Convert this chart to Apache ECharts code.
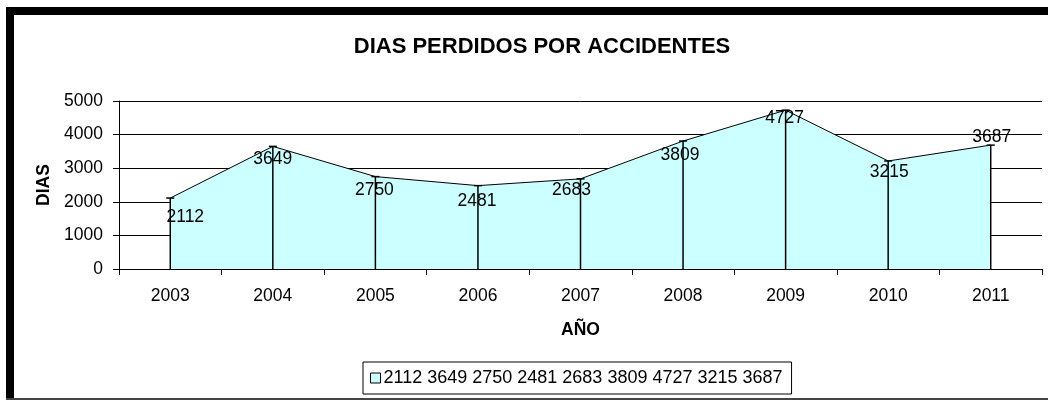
<!DOCTYPE html>
<html>
<head>
<meta charset="utf-8">
<script src="https://cdn.jsdelivr.net/npm/echarts@6/dist/echarts.min.js"></script>
</head>
<body style="margin:0;background:#fff">
<div id="main" style="width:1048px;height:401px;"></div>
<script type="text/javascript">
    // datos
    var years = ['2003', '2004', '2005', '2006', '2007', '2008', '2009', '2010', '2011'];
    var dias = [2112, 3649, 2750, 2481, 2683, 3809, 4727, 3215, 3687];
    var yTicks = [0, 1000, 2000, 3000, 4000, 5000];
    var seriesName = dias.join(' ');

    // desplazamiento de cada etiqueta (como quedaron en Excel)
    var labelOffsets = [[15, 19], [0, 13], [-1, 14], [-1, 16], [-9, 11], [-3, 14], [-1, 8], [1, 11], [1, -8]];

    var font = 'Liberation Sans, Arial, sans-serif';
    var myChart = echarts.init(document.getElementById('main'));

    var option = {
        backgroundColor: '#fff',
        animation: false,
        textStyle: { fontFamily: font, color: '#000' },
        title: {
            text: 'DIAS PERDIDOS POR ACCIDENTES',
            left: 537,
            top: 31,
            textAlign: 'center',
            textStyle: { fontSize: 22, fontWeight: 'bold', color: '#000', fontFamily: font }
        },
        legend: {
            left: 363,
            top: 362,
            padding: [7, 9, 7, 7],
            borderColor: '#000',
            borderWidth: 1,
            itemWidth: 10,
            itemHeight: 10,
            itemGap: 4,
            icon: 'rect',
            textStyle: { fontSize: 18, color: '#000', fontFamily: font, padding: [0, 0, 0, -2] },
            data: [{ name: seriesName, itemStyle: { color: '#CCFFFF', borderColor: '#000', borderWidth: 1 } }]
        },
        grid: { left: 119, right: 6, top: 101, bottom: 132 },
        xAxis: {
            type: 'category',
            data: years,
            boundaryGap: true,
            name: 'AÑO',
            nameLocation: 'middle',
            nameGap: 52,
            nameTextStyle: { fontSize: 17.5, fontWeight: 'bold', color: '#000' },
            axisLine: { lineStyle: { color: '#000', width: 1 } },
            axisTick: { show: true, length: 6, lineStyle: { color: '#000' } },
            axisLabel: { margin: 18, fontSize: 17.5, color: '#000' },
            splitLine: { show: false }
        },
        yAxis: {
            type: 'value',
            min: 0,
            max: 5000,
            interval: 1000,
            name: 'DIAS',
            nameLocation: 'middle',
            nameRotate: 90,
            nameGap: 66,
            nameTextStyle: { fontSize: 17.5, fontWeight: 'bold', color: '#000' },
            axisLine: { show: true, lineStyle: { color: '#000', width: 1 } },
            axisTick: { show: true, length: 6, lineStyle: { color: '#000' } },
            axisLabel: {
                margin: 16, fontSize: 17.5, color: '#000',
                formatter: function (v) { return yTicks.indexOf(v) >= 0 ? String(v) : ''; }
            },
            splitLine: { show: true, lineStyle: { color: '#000', width: 1 } }
        },
        graphic: [
            { type: 'rect', shape: { x: 6, y: 7, width: 1042, height: 8 }, style: { fill: '#000' }, z: 100 },
            { type: 'rect', shape: { x: 6, y: 7, width: 8, height: 392 }, style: { fill: '#000' }, z: 100 },
            { type: 'rect', shape: { x: 6, y: 398, width: 1042, height: 2 }, style: { fill: '#444' }, z: 100 }
        ],
        series: [{
            name: seriesName,
            type: 'line',
            data: dias.map(function (v, i) {
                return {
                    value: v,
                    label: { offset: labelOffsets[i] }
                };
            }),
            symbol: 'circle',
            symbolSize: 1,
            showSymbol: true,
            lineStyle: { color: '#000', width: 1 },
            itemStyle: { color: 'rgba(0,0,0,0)', borderWidth: 0 },
            areaStyle: { color: '#CCFFFF', opacity: 1 },
            label: {
                show: true,
                position: 'inside',
                fontSize: 17.5,
                color: '#000',
                fontFamily: font
            },
            z: 2
        }, {
            // lineas de caida con tope, como las barras de error de Excel
            type: 'custom',
            name: 'drop',
            silent: true,
            data: dias.map(function (v, i) { return [i, v]; }),
            renderItem: function (params, api) {
                var base = api.coord([api.value(0), 0]);
                var top = api.coord([api.value(0), api.value(1)]);
                return {
                    type: 'group',
                    children: [{
                        type: 'line',
                        shape: { x1: base[0], y1: base[1], x2: top[0], y2: top[1] },
                        style: { stroke: '#000', lineWidth: 1.5 }
                    }, {
                        type: 'line',
                        shape: { x1: top[0] - 4, y1: top[1], x2: top[0] + 4, y2: top[1] },
                        style: { stroke: '#000', lineWidth: 1.5 }
                    }]
                };
            },
            z: 3
        }]
    };

    myChart.setOption(option);
</script>
</body>
</html>
